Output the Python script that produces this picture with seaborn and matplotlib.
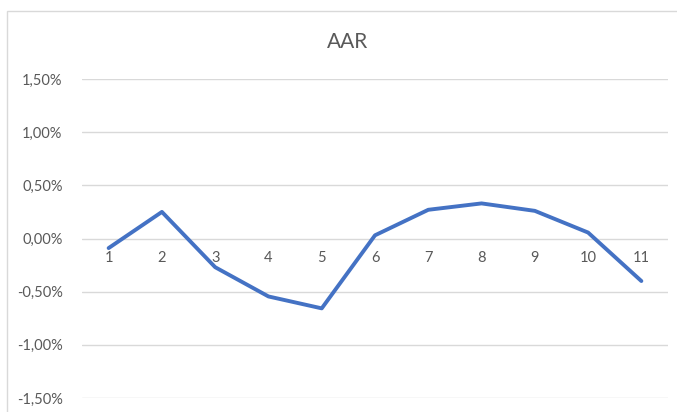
import matplotlib
matplotlib.use('Agg')
import matplotlib.pyplot as plt
import matplotlib.ticker as mticker
import seaborn as sns
import pandas as pd

# AAR values (in %) per event day
days = [1, 2, 3, 4, 5, 6, 7, 8, 9, 10, 11]
aar = [-0.09, 0.25, -0.27, -0.545, -0.657, 0.03, 0.27, 0.33, 0.26, 0.056, -0.40]
y_ticks = [-1.5, -1.0, -0.5, 0.0, 0.5, 1.0, 1.5]

df = pd.DataFrame({'day': days, 'aar': aar})

sns.set_style('white')
plt.rcParams['font.family'] = ['Lato', 'DejaVu Sans']

fig = plt.figure(figsize=(6.77, 4.12), dpi=100)
ax = fig.add_axes([82 / 677, 1 - 398 / 412, 586 / 677, 319 / 412])

# outer chart frame, cut off at the right and bottom
fig.add_artist(plt.Rectangle((7 / 677, -0.1), 1.2, 1 - 10.5 / 412 + 0.1,
                             transform=fig.transFigure, fill=False,
                             edgecolor='#D9D9D9', linewidth=1))

sns.lineplot(data=df, x='day', y='aar', color='#4472C4', linewidth=2.8,
             ax=ax, zorder=3)

ax.set_xlim(0.5, 11.5)
ax.set_ylim(-1.5, 1.5)
ax.set_yticks(y_ticks)
ax.yaxis.set_major_formatter(mticker.FuncFormatter(
    lambda v, p: f'{v:.2f}%'.replace('.', ',')))
ax.set_xticks(days)
ax.set_xticklabels([str(d) for d in days])

ax.grid(axis='y', color='#D9D9D9', linewidth=1)
ax.grid(axis='x', visible=False)
for s in ax.spines.values():
    s.set_visible(False)
ax.spines['bottom'].set_position(('data', 0))

ax.tick_params(axis='y', length=0, pad=14, labelsize=10.5, labelcolor='#595959')
ax.tick_params(axis='x', length=0, pad=9, labelsize=10.5, labelcolor='#595959')
ax.set_xlabel('')
ax.set_ylabel('')

fig.text(348 / 677, 1 - 42 / 412, 'AAR', ha='center', va='center',
         fontsize=15, color='#595959')

plt.savefig('out.png', dpi=100)
